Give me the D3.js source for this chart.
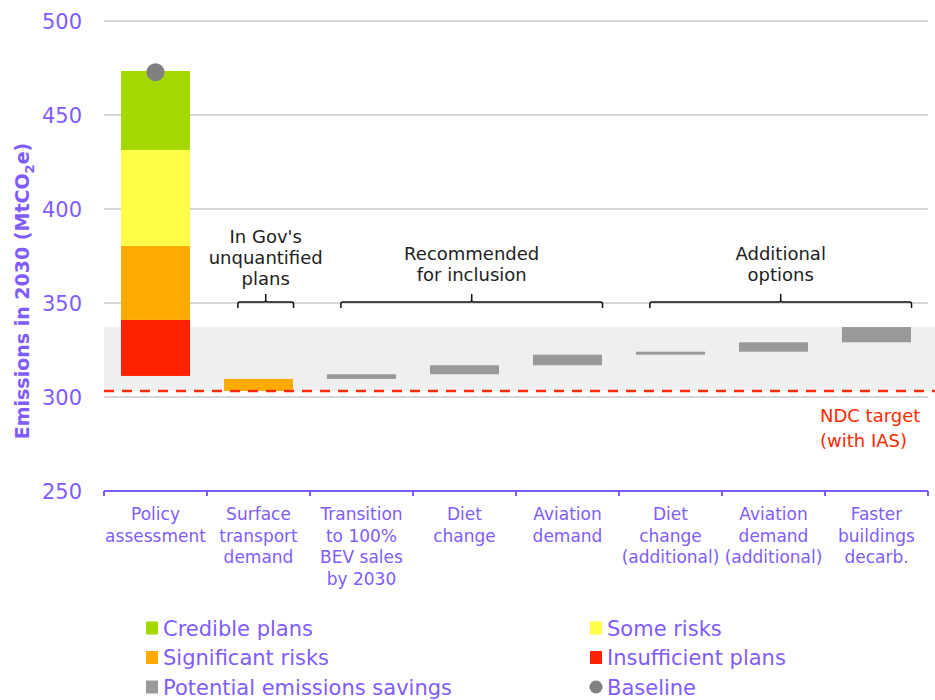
<!DOCTYPE html>
<html>
<head>
<meta charset="utf-8">
<script src="https://cdn.jsdelivr.net/npm/d3@7"></script>
<style>
  body { margin: 0; background: #fff; }
  svg text { font-family: "DejaVu Sans", sans-serif; }
</style>
</head>
<body>
<svg id="chart" width="935" height="700"></svg>
<script>
// categories along the x axis (one label line per array entry)
const categories = ["Policy assessment", "Surface transport demand", "Transition to 100% BEV sales by 2030",
    "Diet change", "Aviation demand", "Diet change (additional)", "Aviation demand (additional)", "Faster buildings decarb."];
const categoryLines = [
    ["Policy", "assessment"],
    ["Surface", "transport", "demand"],
    ["Transition", "to 100%", "BEV sales", "by 2030"],
    ["Diet", "change"],
    ["Aviation", "demand"],
    ["Diet", "change", "(additional)"],
    ["Aviation", "demand", "(additional)"],
    ["Faster", "buildings", "decarb."]
];

// policy assessment stack (bottom to top)
const policyLayers = ["Insufficient plans", "Significant risks", "Some risks", "Credible plans"];
const policyBottom = 311.2;
const policyTops = [341.0, 380.3, 431.4, 473.4];
const baselineValue = 472.8;

// waterfall of potential savings, starting from the NDC target
const ndcTarget = 303.2;
const savings = [6.4, 2.5, 4.8, 5.6, 1.6, 5.0, 8.1];

const yTicks = [250, 300, 350, 400, 450, 500];

const groups = [
    { lines: ["In Gov's", "unquantified", "plans"], first: 1, last: 1 },
    { lines: ["Recommended", "for inclusion"], first: 2, last: 4 },
    { lines: ["Additional", "options"], first: 5, last: 7 }
];

const legendItems = [
    { name: "Credible plans", shape: "rect" },
    { name: "Some risks", shape: "rect" },
    { name: "Significant risks", shape: "rect" },
    { name: "Insufficient plans", shape: "rect" },
    { name: "Potential emissions savings", shape: "rect" },
    { name: "Baseline", shape: "circle" }
];

const colors = {
    "Credible plans": "#a3d900",
    "Some risks": "#ffff4a",
    "Significant risks": "#ffaa00",
    "Insufficient plans": "#ff2200",
    "Potential emissions savings": "#999999",
    "Baseline": "#808080"
};
const purple = "#7f5cff";

const svg = d3.select("#chart");

const x = d3.scaleBand().domain(categories).range([104, 928]).padding(0);
const y = d3.scaleLinear().domain([250, 500]).range([491, 21]);
const bw = x.bandwidth();
const barX = c => x(c) + bw * 0.165;
const barW = bw * 0.67;

// gridlines
svg.append("g")
    .selectAll("line")
    .data(yTicks.filter(t => t > 250))
    .enter().append("line")
    .attr("x1", 104).attr("x2", 928)
    .attr("y1", d => y(d)).attr("y2", d => y(d))
    .attr("stroke", "#d6d6d6")
    .attr("stroke-width", 2);

// shaded savings range
let running = ndcTarget;
const steps = savings.map(v => {
    const s = { from: running, to: running + v };
    running += v;
    return s;
});
svg.append("rect")
    .attr("x", 104)
    .attr("width", 935 - 104)
    .attr("y", y(running))
    .attr("height", y(ndcTarget) - y(running))
    .attr("fill", "#efefef");

// policy stack
const stack = policyTops.map((top, i) => ({
    name: policyLayers[i],
    from: i === 0 ? policyBottom : policyTops[i - 1],
    to: top
}));
svg.append("g")
    .selectAll("rect")
    .data(stack)
    .enter().append("rect")
    .attr("x", barX(categories[0]))
    .attr("width", barW)
    .attr("y", d => y(d.to))
    .attr("height", d => y(d.from) - y(d.to))
    .attr("fill", d => colors[d.name]);

// waterfall bars
svg.append("g")
    .selectAll("rect")
    .data(steps)
    .enter().append("rect")
    .attr("x", (d, i) => barX(categories[i + 1]))
    .attr("width", barW)
    .attr("y", d => y(d.to))
    .attr("height", d => y(d.from) - y(d.to))
    .attr("fill", (d, i) => i === 0 ? colors["Significant risks"] : colors["Potential emissions savings"]);

// NDC target dashed line
svg.append("line")
    .attr("x1", 104).attr("x2", 935)
    .attr("y1", y(ndcTarget)).attr("y2", y(ndcTarget))
    .attr("stroke", "#ff2a00")
    .attr("stroke-width", 2.5)
    .attr("stroke-dasharray", "10,8");

svg.append("text")
    .attr("x", 820).attr("y", 422)
    .attr("fill", "#ff2a00")
    .style("font-size", "18px")
    .selectAll("tspan")
    .data(["NDC target", "(with IAS)"])
    .enter().append("tspan")
    .attr("x", 820)
    .attr("dy", (d, i) => i === 0 ? 0 : 25)
    .text(d => d);

// baseline dot
svg.append("circle")
    .attr("cx", x(categories[0]) + bw / 2)
    .attr("cy", y(baselineValue))
    .attr("r", 9)
    .attr("fill", colors["Baseline"]);

// brackets + group labels
groups.forEach(g => {
    const x1 = x(categories[g.first]) + bw * 0.3;
    const x2 = x(categories[g.last]) + bw * 0.84;
    const xm = (x1 + x2) / 2;
    const yl = 302;
    svg.append("path")
        .attr("d", `M${x1},308 L${x1},${yl + 2} Q${x1},${yl} ${x1 + 2},${yl} L${xm - 2},${yl} Q${xm},${yl} ${xm},${yl - 2} L${xm},294 ` +
            `M${xm},${yl - 2} Q${xm},${yl} ${xm + 2},${yl} L${x2 - 2},${yl} Q${x2},${yl} ${x2},${yl + 2} L${x2},308`)
        .attr("fill", "none")
        .attr("stroke", "#111")
        .attr("stroke-width", 1.5);
    svg.append("text")
        .attr("text-anchor", "middle")
        .attr("fill", "#222")
        .style("font-size", "18px")
        .selectAll("tspan")
        .data(g.lines)
        .enter().append("tspan")
        .attr("x", xm)
        .attr("y", (d, i) => (g.lines.length === 3 ? 243 : 260) + i * 21)
        .text(d => d);
});

// y axis labels
svg.append("g")
    .selectAll("text")
    .data(yTicks)
    .enter().append("text")
    .attr("x", 82)
    .attr("y", d => y(d))
    .attr("dy", "0.36em")
    .attr("text-anchor", "end")
    .attr("fill", purple)
    .style("font-size", "21px")
    .text(d => d);

svg.append("text")
    .attr("transform", "translate(29,291) rotate(-90)")
    .attr("text-anchor", "middle")
    .attr("fill", purple)
    .style("font-size", "19px")
    .style("font-weight", "bold")
    .call(t => {
        t.append("tspan").text("Emissions in 2030 (MtCO");
        t.append("tspan").attr("dy", 5).style("font-size", "13px").text("2");
        t.append("tspan").attr("dy", -5).text("e)");
    });

// x axis
const xAxis = svg.append("g");
xAxis.append("line")
    .attr("x1", 104).attr("x2", 928)
    .attr("y1", y(250)).attr("y2", y(250))
    .attr("stroke", purple).attr("stroke-width", 2);
xAxis.selectAll(".tick")
    .data(categories.map(c => x(c)).concat([928]))
    .enter().append("line")
    .attr("x1", d => d).attr("x2", d => d)
    .attr("y1", y(250)).attr("y2", y(250) + 5)
    .attr("stroke", purple).attr("stroke-width", 2);

xAxis.selectAll(".label")
    .data(categories)
    .enter().append("text")
    .attr("text-anchor", "middle")
    .attr("fill", purple)
    .style("font-size", "17px")
    .each(function (c, i) {
        d3.select(this).selectAll("tspan")
            .data(categoryLines[i])
            .enter().append("tspan")
            .attr("x", x(c) + bw / 2)
            .attr("y", (d, j) => 520 + j * 21.5)
            .text(d => d);
    });

// legend
const legend = svg.append("g");
legendItems.forEach((item, i) => {
    const lx = i % 2 === 0 ? 146 : 590;
    const ly = 628 + Math.floor(i / 2) * 29.5;
    if (item.shape === "rect") {
        legend.append("rect")
            .attr("x", lx).attr("y", ly - 6.5)
            .attr("width", 12).attr("height", 13)
            .attr("fill", colors[item.name]);
    } else {
        legend.append("circle")
            .attr("cx", lx + 6).attr("cy", ly)
            .attr("r", 6.5)
            .attr("fill", colors[item.name]);
    }
    legend.append("text")
        .attr("x", lx + 17).attr("y", ly)
        .attr("dy", "0.36em")
        .attr("fill", purple)
        .style("font-size", "21px")
        .text(item.name);
});
</script>
</body>
</html>
